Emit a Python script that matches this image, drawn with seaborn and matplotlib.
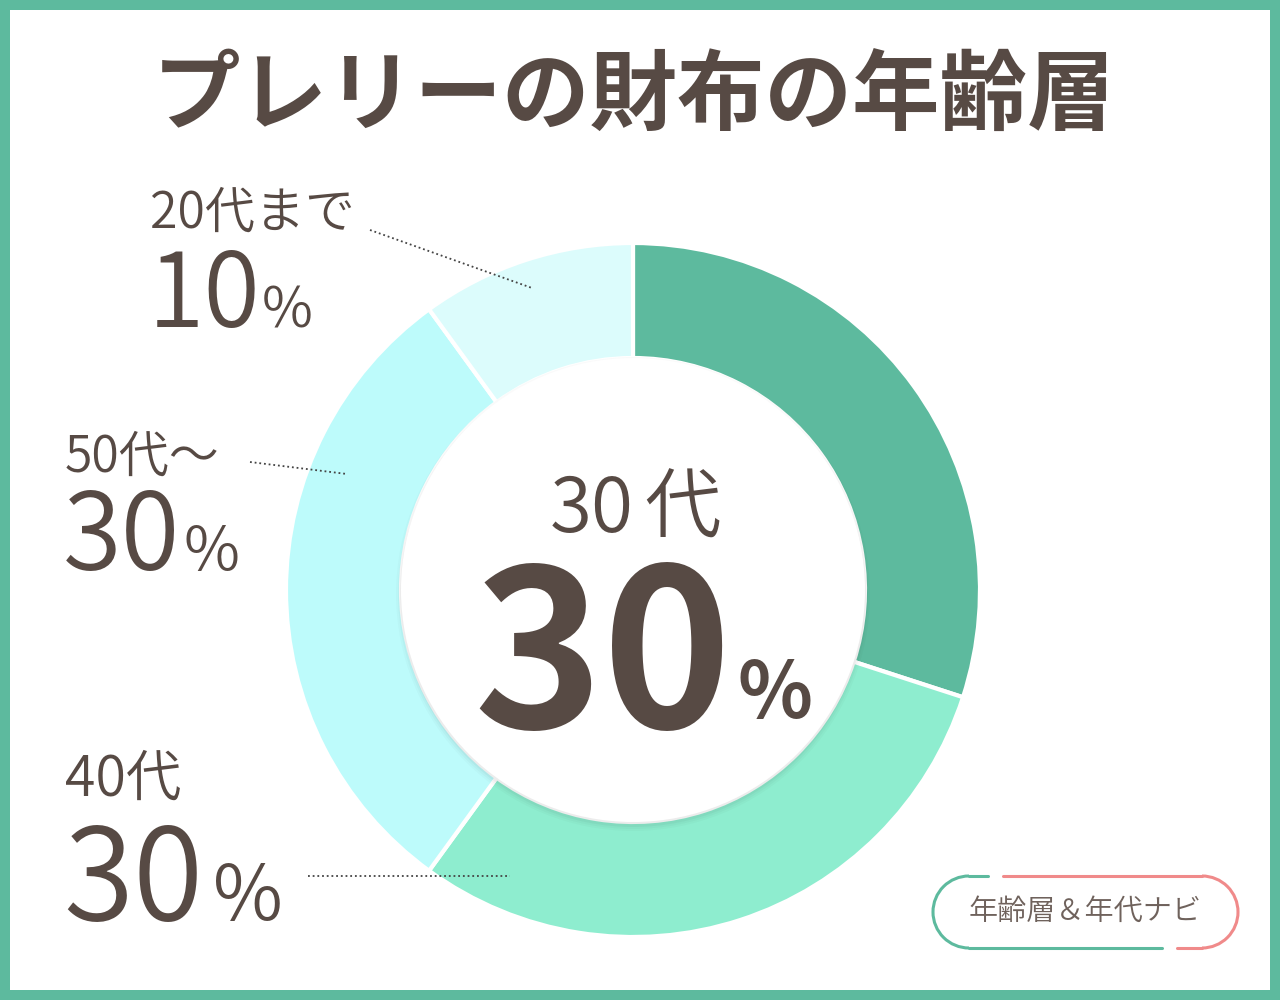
import matplotlib
matplotlib.use('Agg')
import matplotlib.pyplot as plt
import seaborn as sns
from matplotlib.patches import Rectangle, Circle, Arc

# Data
age_groups = ['30代', '40代', '50代～', '20代まで']
shares = [30, 30, 30, 10]
seg_colors = ['#5dba9e', '#8eedcf', '#bdfbfb', '#dcfcfc']
title = 'プレリーの財布の年齢層'
badge_text = '年齢層＆年代ナビ'

TEXT = '#574a44'
FRAME = '#5dba9e'
PINK = '#f08a8a'
THIN = 350  # DemiLight

sns.set_theme(style='white')
plt.rcParams['font.family'] = ['Noto Sans CJK JP', 'DejaVu Sans']

W, H = 1280, 1000
fig = plt.figure(figsize=(12.8, 10), dpi=100)
ax = fig.add_axes([0, 0, 1, 1])


def Y(y):
    # pixel row (from top) -> data y
    return H - y


# donut
cx, cy, r_out, r_in = 633, 590, 347, 232
palette = sns.color_palette(seg_colors)
ax.pie(shares, colors=palette, startangle=90, counterclock=False,
       center=(cx, Y(cy)), radius=r_out, frame=True,
       wedgeprops=dict(width=r_out - r_in, edgecolor='white', linewidth=3))

# soft shadow under the centre hole
for k, a in [(5, 0.02), (3, 0.025), (1, 0.03)]:
    ax.add_patch(Circle((cx, Y(cy) - 4), r_in + k, color='black', alpha=a, lw=0, zorder=3))
ax.add_patch(Circle((cx, Y(cy)), r_in, color='white', lw=0, zorder=4))

ax.set_xlim(0, W)
ax.set_ylim(0, H)
ax.set_aspect('equal')
ax.axis('off')

# frame
ax.add_patch(Rectangle((5, 5), W - 10, H - 10, fill=False, edgecolor=FRAME, linewidth=7.2, zorder=10))

# title
ax.text(634, Y(99), title, ha='center', va='center', fontsize=63, fontweight='bold', color=TEXT)

# centre label (largest group)
ax.text(634, Y(532), age_groups[0][:-1], ha='right', va='baseline', fontsize=55,
        fontweight=THIN, color=TEXT, zorder=6)
ax.text(644, Y(532), age_groups[0][-1], ha='left', va='baseline', fontsize=55,
        fontweight=THIN, color=TEXT, zorder=6)
ax.text(603, Y(728), f'{shares[0]}', ha='center', va='baseline', fontsize=158, fontweight='bold', color=TEXT, zorder=6)
ax.text(737, Y(718), '%', ha='left', va='baseline', fontsize=56, fontweight='bold', color=TEXT, zorder=6)

# outside labels: (group index, label x, label baseline, label size, pct baseline, pct size, % x, % size)
outer = [
    (3, 150, 228, 36, 327, 74, 262, 40),
    (2, 65, 472, 36, 570, 77, 183, 44),
    (1, 65, 796, 40, 920, 92, 213, 55),
]
for i, lx, lb, ls, pb, ps, px, pss in outer:
    ax.text(lx, Y(lb), age_groups[i], ha='left', va='baseline', fontsize=ls, fontweight=THIN, color=TEXT)
    ax.text(lx - 2, Y(pb), f'{shares[i]}', ha='left', va='baseline', fontsize=ps, fontweight=THIN, color=TEXT)
    ax.text(px, Y(pb), '%', ha='left', va='baseline', fontsize=pss, fontweight=THIN, color=TEXT)

# dotted leader lines
leaders = [((370, 230), (532, 288)), ((250, 462), (347, 474)), ((308, 876), (510, 876))]
for (x0, y0), (x1, y1) in leaders:
    ax.plot([x0, x1], [Y(y0), Y(y1)], color='#444444', lw=1.3, ls=(0, (1, 1.6)), zorder=7)

# badge
bl, br, bt, bb = 969, 1202, 876, 948
br_r = (bb - bt) / 2
bcy = Y((bt + bb) / 2)
lw_b = 2.2
ax.add_patch(Arc((bl, bcy), 2 * br_r, 2 * br_r, theta1=90, theta2=270, color=FRAME, lw=lw_b))
ax.plot([bl, 988], [Y(bt), Y(bt)], color=FRAME, lw=lw_b, solid_capstyle='round')
ax.plot([bl, 1162], [Y(bb), Y(bb)], color=FRAME, lw=lw_b, solid_capstyle='round')
ax.add_patch(Arc((br, bcy), 2 * br_r, 2 * br_r, theta1=-90, theta2=90, color=PINK, lw=lw_b))
ax.plot([1003, br], [Y(bt), Y(bt)], color=PINK, lw=lw_b, solid_capstyle='round')
ax.plot([1177, br], [Y(bb), Y(bb)], color=PINK, lw=lw_b, solid_capstyle='round')
ax.text((bl + br) / 2, bcy, badge_text, ha='center', va='center', fontsize=21, fontweight=THIN, color='#6f625c')

fig.savefig('out.png', dpi=100, facecolor='white')
